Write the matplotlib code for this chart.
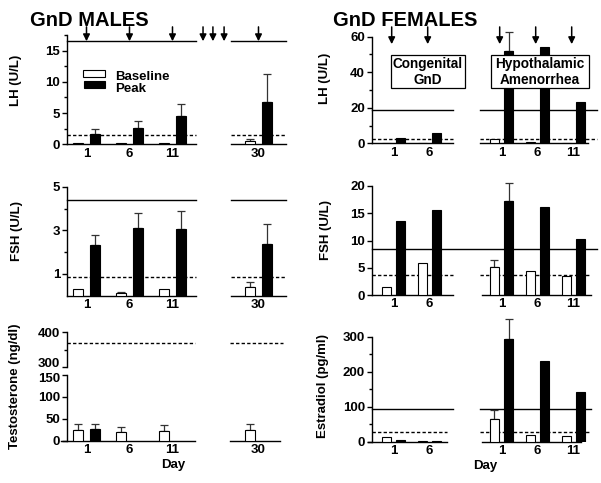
import matplotlib
matplotlib.use('Agg')
import matplotlib.pyplot as plt
from matplotlib.patches import Rectangle
import numpy as np

plt.rcParams['font.family'] = ['Liberation Sans', 'DejaVu Sans']
plt.rcParams['font.weight'] = 'bold'

# ---------------- data ----------------
male_days = [1, 6, 11, 30]
male_lh_base = [0.2, 0.15, 0.2, 0.58]
male_lh_base_err = [0, 0, 0, 0.27]
male_lh_peak = [1.6, 2.6, 4.5, 6.8]
male_lh_peak_err = [0.85, 1.2, 1.9, 4.4]
male_lh_ref = [1.5, 16.5]          # dashed, solid

male_fsh_base = [0.31, 0.11, 0.33, 0.41]
male_fsh_base_err = [0, 0.07, 0, 0.2]
male_fsh_peak = [2.32, 3.1, 3.08, 2.39]
male_fsh_peak_err = [0.48, 0.7, 0.8, 0.91]
male_fsh_ref = [0.87, 4.37]

male_t_base = [24.5, 20.5, 22.5, 24.8]
male_t_base_err = [13, 11.5, 13.5, 12.8]
male_t_peak = [26, np.nan, np.nan, np.nan]
male_t_peak_err = [13, 0, 0, 0]
male_t_ref = [370]

cong_days = [1, 6]
hypo_days = [1, 6, 11]

f_lh_cong_base = [0.4, 0.4]
f_lh_cong_peak = [3.2, 5.6]
f_lh_hypo_base = [2.2, 0.6, 0.3]
f_lh_hypo_peak = [52, 54.4, 23.4]
f_lh_hypo_peak_err = [10.5, 0, 0]
f_lh_ref = [2.3, 18.8]

f_fsh_cong_base = [1.5, 5.9]
f_fsh_cong_peak = [13.6, 15.6]
f_fsh_hypo_base = [5.2, 4.4, 3.5]
f_fsh_hypo_base_err = [1.2, 0, 0]
f_fsh_hypo_peak = [17.3, 16.2, 10.3]
f_fsh_hypo_peak_err = [3.2, 0, 0]
f_fsh_ref = [3.7, 8.4]

f_e2_cong_base = [14, 3]
f_e2_cong_peak = [6, 3]
f_e2_hypo_base = [66, 18, 15]
f_e2_hypo_base_err = [26, 0, 0]
f_e2_hypo_peak = [294, 231, 142]
f_e2_hypo_peak_err = [58, 0, 0]
f_e2_ref = [27, 92.5]

# ---------------- layout ----------------
W, H = 601, 483
fig = plt.figure(figsize=(W / 100, H / 100), dpi=100)

male_slot = {1: 0, 6: 1, 11: 2, 30: 4}
cong_slot = {1: 0, 6: 1}
hypo_slot = {1: 3, 6: 4, 11: 5}
gap_arrow_slots = [2.71, 2.94, 3.20]

M_XLIM = (-0.4535, 4.663)
F_XLIM = (-0.597, 5.653)
M_SEGS = [(-0.4535, 2.547), (3.36, 4.64)]
F_SEGS = [(-0.597, 1.65), (2.40, 5.65)]
F_BOT = [(-0.597, 1.65), (2.40, 5.40)]
OFF = 0.2
BW = 0.25
DASH = (0, (2.4, 1.6))


def rect(x0, y0, x1, y1):
    return [x0 / W, 1 - y1 / H, (x1 - x0) / W, (y1 - y0) / H]


def fx(x):
    return x / W


def fy(y):
    return 1 - y / H


def make_ax(r, xlim, ylim, major, minor=None, labels=None):
    ax = fig.add_axes(rect(*r))
    ax.set_xlim(*xlim)
    ax.set_ylim(*ylim)
    ax.patch.set_visible(False)
    for s in ['top', 'right', 'bottom']:
        ax.spines[s].set_visible(False)
    ax.spines['left'].set_linewidth(1)
    ax.set_yticks(major)
    if labels is not None:
        ax.set_yticklabels(labels)
    if minor:
        ax.set_yticks(minor, minor=True)
    ax.tick_params(axis='y', which='major', length=3.5, width=1, labelsize=9.5, pad=1.5)
    ax.tick_params(axis='y', which='minor', length=2.5, width=1)
    ax.tick_params(axis='x', length=0, labelsize=9.5, pad=2.5)
    return ax


def hseg(ax, y, segs, ls='-'):
    for a, b in segs:
        ax.plot([a, b], [y, y], color='black', lw=1, ls=ls, clip_on=False, zorder=2)


def bars(ax, slots, vals, errs, color):
    xs, hs, es = [], [], []
    for s, v, e in zip(slots, vals, errs):
        if v is None or (isinstance(v, float) and np.isnan(v)):
            continue
        xs.append(s); hs.append(v); es.append(e)
    ax.bar(xs, hs, BW, color=color, edgecolor='black', linewidth=0.8, zorder=3)
    ex = [x for x, e in zip(xs, es) if e > 0]
    ey = [h for h, e in zip(hs, es) if e > 0]
    ee = [e for e in es if e > 0]
    if ex:
        ax.errorbar(ex, ey, yerr=[np.zeros(len(ee)), ee], fmt='none', ecolor='#333333',
                    elinewidth=0.9, capsize=2.6, capthick=0.9, zorder=2.5, clip_on=False)


def arrow(ax, x, tip, tail):
    ax.annotate('', xy=(x, tip), xytext=(x, tail),
                arrowprops=dict(arrowstyle='-|>', color='black', lw=1.1, mutation_scale=10,
                                shrinkA=0, shrinkB=0),
                annotation_clip=False)


def set_days(ax, slot_map_list):
    ticks, labs = [], []
    for m in slot_map_list:
        for d, s in m.items():
            ticks.append(s); labs.append(str(d))
    ax.set_xticks(ticks)
    ax.set_xticklabels(labs)


mslots = [male_slot[d] for d in male_days]
mb = [s - OFF for s in mslots]
mp = [s + OFF for s in mslots]

# ---- Male LH ----
ax = make_ax((67, 35, 287, 144.3), M_XLIM, (0, 17.5), [0, 5, 10, 15], [2.5, 7.5, 12.5, 17.5])
bars(ax, mb, male_lh_base, male_lh_base_err, 'white')
bars(ax, mp, male_lh_peak, male_lh_peak_err, 'black')
hseg(ax, male_lh_ref[0], M_SEGS, DASH)
hseg(ax, male_lh_ref[1], M_SEGS, '-')
hseg(ax, 0, M_SEGS, '-')
for s in mslots + gap_arrow_slots:
    arrow(ax, s, male_lh_ref[1], 18.8)
set_days(ax, [male_slot])

# legend (manual)
fig.add_artist(Rectangle((fx(83), fy(76.5)), 22 / W, 7 / H, transform=fig.transFigure,
                         facecolor='white', edgecolor='black', lw=0.8))
fig.add_artist(Rectangle((fx(84), fy(88)), 21 / W, 6.5 / H, transform=fig.transFigure,
                         facecolor='black', edgecolor='black', lw=0.8))
fig.text(fx(115), fy(80), 'Baseline', fontsize=9.5, ha='left', va='baseline')
fig.text(fx(115), fy(92.5), 'Peak', fontsize=9.5, ha='left', va='baseline')

# ---- Male FSH ----
ax = make_ax((67, 186.7, 287, 295.7), M_XLIM, (0, 5), [1, 3, 5], [2, 4])
bars(ax, mb, male_fsh_base, male_fsh_base_err, 'white')
bars(ax, mp, male_fsh_peak, male_fsh_peak_err, 'black')
hseg(ax, male_fsh_ref[0], M_SEGS, DASH)
hseg(ax, male_fsh_ref[1], M_SEGS, '-')
hseg(ax, 0, M_SEGS, '-')
set_days(ax, [male_slot])

# ---- Male Testosterone (broken axis) ----
axu = make_ax((67, 332.3, 287, 366.7), M_XLIM, (300, 400), [300, 400], [350],
              labels=['', '400'])
axu.set_xticks([])
axu.annotate('300', xy=(0, 300), xycoords=('axes fraction', 'data'), xytext=(-5, 2.2),
             textcoords='offset points', ha='right', va='center', fontsize=9.5)
hseg(axu, male_t_ref[0], [(-0.4535, 2.52), (3.33, 4.58)], DASH)
axl = make_ax((67, 375, 287, 440.7), M_XLIM, (0, 150), [0, 50, 100, 150],
              labels=['0', '50', '100', ''])
axl.annotate('150', xy=(0, 150), xycoords=('axes fraction', 'data'), xytext=(-5, -2.6),
             textcoords='offset points', ha='right', va='center', fontsize=9.5)
bars(axl, mb, male_t_base, male_t_base_err, 'white')
bars(axl, mp, male_t_peak, male_t_peak_err, 'black')
hseg(axl, 0, [(-0.6, 2.52), (3.33, 4.51)], '-')
set_days(axl, [male_slot])

# ---- Female panels ----
cs = [cong_slot[d] for d in cong_days]
hs = [hypo_slot[d] for d in hypo_days]
cb = [s - OFF for s in cs]; cp = [s + OFF for s in cs]
hb = [s - OFF for s in hs]; hp = [s + OFF for s in hs]
z2 = [0, 0]; z3 = [0, 0, 0]

ax = make_ax((372, 36.7, 597, 143.3), F_XLIM, (0, 60), [0, 20, 40, 60], [10, 30, 50])
bars(ax, cb, f_lh_cong_base, z2, 'white')
bars(ax, cp, f_lh_cong_peak, z2, 'black')
bars(ax, hb, f_lh_hypo_base, z3, 'white')
bars(ax, hp, f_lh_hypo_peak, f_lh_hypo_peak_err, 'black')
hseg(ax, f_lh_ref[0], F_SEGS, DASH)
hseg(ax, f_lh_ref[1], F_SEGS, '-')
hseg(ax, 0, F_BOT, '-')
for s in cs + hs:
    arrow(ax, s - 0.05, 55.8, 65.5)
set_days(ax, [cong_slot, hypo_slot])

# annotation boxes
fig.add_artist(Rectangle((fx(391), fy(88.3)), 74 / W, 33.3 / H, transform=fig.transFigure,
                         facecolor='white', edgecolor='black', lw=0.9, zorder=10))
fig.text(fx(428), fy(72), 'Congenital\nGnD', fontsize=9.8, ha='center', va='center',
         linespacing=1.25, zorder=11)
fig.add_artist(Rectangle((fx(490.7), fy(88.3)), 98.3 / W, 33.3 / H, transform=fig.transFigure,
                         facecolor='white', edgecolor='black', lw=0.9, zorder=10))
fig.text(fx(540), fy(72), 'Hypothalamic\nAmenorrhea', fontsize=9.8, ha='center', va='center',
         linespacing=1.25, zorder=11)

ax = make_ax((372, 186, 597, 295), F_XLIM, (0, 20), [0, 5, 10, 15, 20])
bars(ax, cb, f_fsh_cong_base, z2, 'white')
bars(ax, cp, f_fsh_cong_peak, z2, 'black')
bars(ax, hb, f_fsh_hypo_base, f_fsh_hypo_base_err, 'white')
bars(ax, hp, f_fsh_hypo_peak, f_fsh_hypo_peak_err, 'black')
hseg(ax, f_fsh_ref[0], [(-0.597, 1.65), (2.40, 5.5)], DASH)
hseg(ax, f_fsh_ref[1], [(-0.597, 5.653)], '-')
hseg(ax, 0, [(-0.597, 1.65), (2.45, 5.5)], '-')
set_days(ax, [cong_slot, hypo_slot])

ax = make_ax((372, 336.7, 597, 441.7), F_XLIM, (0, 300), [0, 100, 200, 300], [50, 150, 250])
bars(ax, cb, f_e2_cong_base, z2, 'white')
bars(ax, cp, f_e2_cong_peak, z2, 'black')
bars(ax, hb, f_e2_hypo_base, f_e2_hypo_base_err, 'white')
bars(ax, hp, f_e2_hypo_peak, f_e2_hypo_peak_err, 'black')
hseg(ax, f_e2_ref[0], [(-0.597, 1.48), (2.40, 5.5)], DASH)
hseg(ax, f_e2_ref[1], [(-0.597, 1.65), (2.40, 5.5)], '-')
hseg(ax, 0, [(-0.7, 1.48), (2.45, 5.2)], '-')
set_days(ax, [cong_slot, hypo_slot])

# ---- texts ----
fig.text(fx(30), fy(25.5), 'GnD MALES', fontsize=14.5, ha='left', va='baseline')
fig.text(fx(333), fy(25.5), 'GnD FEMALES', fontsize=14.5, ha='left', va='baseline')

ylab = [(16, 80, 'LH (U/L)'), (17, 231, 'FSH (U/L)'), (15, 386, 'Testosterone (ng/dl)'),
        (325, 78, 'LH (U/L)'), (326, 230, 'FSH (U/L)'), (323, 386, 'Estradiol (pg/ml)')]
for x, y, s in ylab:
    fig.text(fx(x), fy(y), s, fontsize=9.5, rotation=90, ha='center', va='center')

fig.text(fx(173), fy(468), 'Day', fontsize=9.5, ha='center', va='baseline')
fig.text(fx(485), fy(469), 'Day', fontsize=9.5, ha='center', va='baseline')

fig.savefig('out.png', dpi=100)
